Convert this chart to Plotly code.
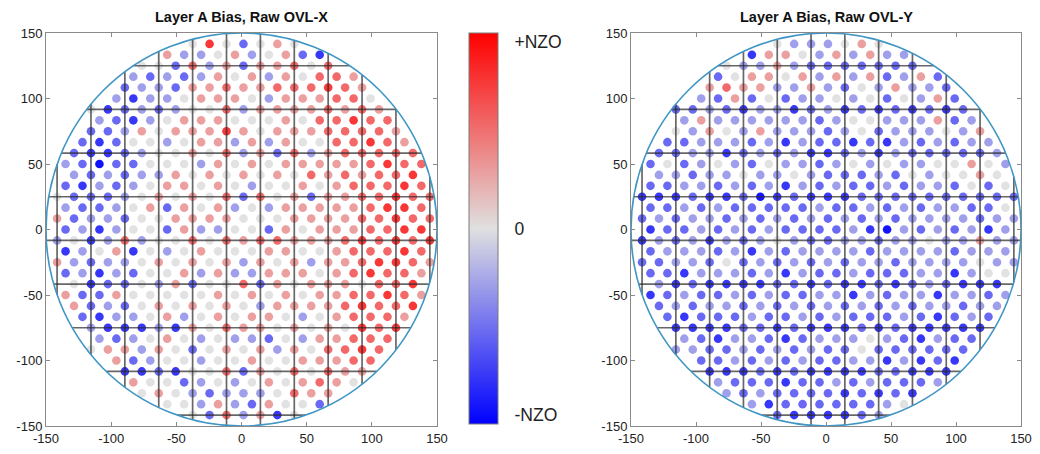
import sys
import numpy as np
import plotly.graph_objects as go

# ---------------- data ----------------
TITLES = ["Layer A Bias, Raw OVL-X", "Layer A Bias, Raw OVL-Y"]
AXIS_TICKS = [-150, -100, -50, 0, 50, 100, 150]
AXIS_TICKTEXT = ["-150", "-100", "-50", "0", "50", "100", "150"]
CB_LABEL_VALS = [-0.955, 0, 0.955]
CB_LABEL_TEXT = ["-NZO", "0", "+NZO"]
CB_MINOR_TICKS = [-2 / 3, -1 / 3, 0, 1 / 3, 2 / 3]

# bias level codes 1..9 -> normalised bias (-NZO .. +NZO)
LEVEL_VALUES = {"1": -1.0, "2": -0.82, "3": -0.58, "4": -0.32, "5": 0.0,
                "6": 0.32, "7": 0.58, "8": 0.82, "9": 1.0}

# site rows from top (row index k=14) to bottom (k=-20); each digit is the
# bias level of one measurement site, left to right
K_TOP = 14
X_ROWS = [
    "5 8 5 3 5 6 5",
    "6 4 4 5 6 4 5 6 3 2",
    "5 5 3 7 4 6 3 6 6 7 5 7",
    "4 3 4 3 4 6 5 6 4 6 5 7 7 6",
    "3 4 4 3 6 6 7 6 6 7 7 7 8 7 6",
    "4 2 4 4 5 6 6 6 5 4 6 6 6 7 7 5",
    "5 2 3 4 3 4 5 5 7 4 6 6 6 6 7 6 7 6",
    "4 3 2 4 5 6 6 6 5 5 5 6 5 7 7 8 7 7",
    "3 3 4 6 5 6 6 6 8 6 5 6 6 6 7 7 7 7 6",
    "3 2 3 5 5 4 5 6 6 4 6 4 6 5 5 7 7 8 7 6",
    "3 2 2 3 4 5 5 6 5 7 4 6 3 7 4 6 7 7 7 7 7",
    "4 3 1 3 3 5 5 5 4 6 5 6 5 6 6 6 6 6 7 8 7 7",
    "4 3 4 3 4 4 6 5 6 5 6 5 6 5 7 6 7 6 7 7 8 7",
    "3 2 4 3 4 5 6 6 5 6 5 4 5 5 6 5 6 7 7 7 8 7",
    "5 3 3 3 4 5 6 5 6 5 7 3 7 5 6 3 6 6 7 7 8 7 7",
    "4 3 3 4 5 6 3 6 5 6 4 5 4 6 6 6 6 6 7 8 8 7",
    "6 3 4 4 3 5 5 6 6 6 6 5 5 5 6 6 6 6 7 7 8 7 7",
    "3 4 2 4 5 5 3 6 4 4 5 5 3 6 5 6 6 6 7 7 8 8",
    "4 5 2 4 7 4 5 5 7 5 7 6 7 7 6 6 6 7 8 7 8 7 8",
    "2 4 5 6 2 5 4 5 6 5 5 5 6 6 5 5 6 7 7 7 8 7",
    "6 4 3 4 4 5 6 5 6 5 6 4 6 5 6 4 6 6 7 8 8 7 6",
    "3 4 2 4 3 5 5 6 4 6 4 4 6 6 6 5 6 7 8 7 7 6",
    "5 2 3 3 5 4 6 3 5 5 7 3 6 5 6 6 6 5 7 7 8 7",
    "6 3 3 6 5 5 5 5 5 6 5 6 5 6 5 6 6 7 7 8 7 6",
    "6 3 4 3 5 6 5 6 5 6 5 4 6 6 6 6 7 8 7 7 8",
    "3 2 4 4 5 6 4 5 6 5 6 6 5 4 5 6 7 7 7 6",
    "4 2 2 2 4 2 6 5 7 6 6 5 6 5 6 5 8 7 8",
    "4 3 4 5 6 5 4 5 4 4 3 5 4 6 6 7 7 7",
    "5 6 6 4 6 5 3 5 6 5 6 4 6 5 7 7 8 7",
    "6 3 4 5 5 4 5 5 6 5 5 6 6 6 7 7",
    "2 2 3 2 5 5 7 3 6 5 7 5 7 6 6",
    "6 5 5 3 4 5 4 5 6 5 6 7 6 5",
    "5 6 5 4 3 4 4 4 5 7 6 6",
    "5 5 4 6 4 3 6 5 5 3",
    "5 3 7 4 6 2 5",
]
Y_ROWS = [
    "5 4 4 4 5 6 5",
    "2 6 6 5 4 6 4 6 4 4",
    "5 4 4 6 4 3 3 3 3 3 3 3",
    "3 5 6 6 5 6 4 6 4 6 3 4 6 3",
    "6 7 6 6 4 4 6 4 3 5 4 6 4 4 3",
    "4 3 6 3 5 3 4 4 5 4 5 3 5 4 6 3",
    "3 3 4 3 2 4 4 2 3 4 2 3 2 3 2 3 2 3",
    "4 6 4 4 4 4 4 4 3 4 5 5 4 4 4 6 3 4",
    "5 4 6 5 4 6 4 4 4 3 4 5 3 4 4 4 5 4 6",
    "3 3 4 4 4 3 4 2 4 3 3 2 3 2 4 3 4 3 4 4",
    "3 3 4 4 2 3 4 3 4 2 2 3 4 2 4 3 3 3 3 3 4",
    "3 5 3 4 5 4 3 5 4 4 3 4 5 4 5 4 4 5 5 6 5 4",
    "4 4 3 4 4 5 4 4 5 4 3 3 3 4 3 5 4 5 5 6 5 7",
    "3 3 4 4 3 4 3 4 2 4 3 4 3 3 4 3 4 4 3 5 3 5",
    "2 2 2 3 2 2 3 1 2 3 2 2 2 3 3 3 3 3 3 3 3 3 3",
    "3 3 4 3 4 3 3 3 3 3 4 3 3 4 3 4 3 4 4 3 3 5",
    "3 4 3 4 4 3 4 3 4 3 4 3 4 3 4 3 4 4 4 4 3 4 4",
    "2 3 3 4 3 4 3 4 3 3 3 3 4 2 1 4 3 4 3 4 2 4",
    "2 4 3 4 2 4 3 4 5 4 3 3 4 4 3 4 4 5 4 4 6 4 4",
    "3 4 4 4 3 4 2 4 3 4 4 4 4 3 4 4 4 4 3 4 4 4",
    "3 3 4 4 3 5 3 4 3 4 3 4 3 4 4 3 4 4 4 4 5 4 4",
    "3 3 2 4 4 4 3 4 2 4 3 3 4 3 3 3 4 4 2 4 5 5",
    "4 2 3 2 2 2 2 3 3 2 3 2 2 3 2 3 4 3 2 2 2 2",
    "2 3 4 3 3 4 3 4 3 3 4 4 2 4 3 4 4 2 4 4 3 4",
    "3 4 3 4 4 3 4 3 4 3 4 3 4 3 4 3 4 4 3 4 4",
    "3 2 3 3 3 4 3 3 4 3 4 3 3 3 4 3 2 3 4 3",
    "2 2 2 2 3 3 2 3 2 2 2 3 2 3 2 2 2 2 2",
    "4 3 2 4 4 3 2 3 4 4 4 5 4 3 2 4 3 3",
    "4 4 3 3 4 3 4 3 4 3 3 5 3 3 3 3 3 3",
    "3 3 4 3 4 3 4 3 3 4 4 2 4 2 3 2",
    "2 2 2 3 2 3 2 2 2 2 3 3 2 2 2",
    "4 3 3 3 2 3 3 4 3 4 3 3 3 4",
    "4 3 4 3 3 3 3 2 3 2 3 2",
    "4 2 3 3 3 3 3 3 4 5",
    "3 2 2 2 2 3 4",
]

# ---------------- wafer / field geometry (mm) ----------------
WAFER_R = 150.0
SITE_R = 147.5
SITE_DX = 6.5
SITE_X0 = 1.5
ROW_Y0 = 25.0
ROW_DY = 100.0 / 12
FIELD_W = 26.0
FIELD_H = 100.0 / 3
FIELD_X0 = 14.5
FIELD_Y0 = 25.0


def sites(rows):
    xs, ys, vs = [], [], []
    for idx, s in enumerate(rows):
        k = K_TOP - idx
        y = ROW_Y0 + k * ROW_DY
        js = [j for j in range(-24, 25)
              if (j - k) % 2 == 0 and np.hypot(SITE_X0 + SITE_DX * j, y) <= SITE_R]
        codes = s.replace(" ", "")
        if len(codes) != len(js):
            print(f"row k={k}: {len(codes)} codes for {len(js)} sites", file=sys.stderr)
        for j, c in zip(js, codes):
            if c == ".":
                continue
            xs.append(SITE_X0 + SITE_DX * j)
            ys.append(y)
            vs.append(LEVEL_VALUES[c])
    return xs, ys, vs


def field_grid():
    gx, gy = [], []
    for m in range(-8, 9):
        x = FIELD_X0 + m * FIELD_W
        if abs(x) < WAFER_R:
            h = np.sqrt(WAFER_R ** 2 - x ** 2)
            gx += [x, x, None]
            gy += [-h, h, None]
    for m in range(-6, 6):
        y = FIELD_Y0 + m * FIELD_H
        if abs(y) < WAFER_R:
            h = np.sqrt(WAFER_R ** 2 - y ** 2)
            gx += [-h, h, None]
            gy += [y, y, None]
    return gx, gy


COLORSCALE = [[0.0, "rgb(0,0,255)"], [0.5, "rgb(224,224,224)"], [1.0, "rgb(255,0,0)"]]
FONT = "Liberation Sans, Arial, sans-serif"

# page geometry (pixels in the 1040x454 window); the html body adds an 8px margin
PAGE_OFF = 8
W, H = 1040 - 2 * PAGE_OFF, 454 - 2 * PAGE_OFF
PLOT_L, PLOT_R, PLOT_T, PLOT_B = 46, 1021, 33, 426
ML, MR = PLOT_L - PAGE_OFF, (W + PAGE_OFF) - PLOT_R
MT, MB = PLOT_T - PAGE_OFF, (H + PAGE_OFF) - PLOT_B
PW, PH = PLOT_R - PLOT_L, PLOT_B - PLOT_T
PANEL_X = [(46, 437), (631, 1021)]
CB_X0, CB_X1, CB_Y0, CB_Y1 = 469, 498, 33, 424


def px_to_fx(px):
    return (px - PLOT_L) / PW


def py_to_fy(py):
    return 1 - (py - PLOT_T) / PH


fig = go.Figure()
gx, gy = field_grid()
for p, rows in enumerate([X_ROWS, Y_ROWS]):
    xa = "x" if p == 0 else "x2"
    ya = "y" if p == 0 else "y2"
    xs, ys, vs = sites(rows)
    marker = dict(size=8.6, color=vs, cmin=-1, cmax=1, colorscale=COLORSCALE,
                  opacity=0.93, line=dict(width=0))
    if p == 0:
        marker.update(showscale=True, colorbar=dict(
            x=px_to_fx(CB_X0), xanchor="left", xpad=0, ypad=0,
            y=py_to_fy((CB_Y0 + CB_Y1) / 2), yanchor="middle",
            len=(CB_Y1 - CB_Y0) / PH, lenmode="fraction",
            thickness=CB_X1 - CB_X0, thicknessmode="pixels",
            outlinewidth=1, outlinecolor="#7a7a7a",
            tickvals=CB_LABEL_VALS, ticktext=CB_LABEL_TEXT,
            ticks="outside", ticklen=13, tickcolor="rgba(0,0,0,0)",
            tickfont=dict(family=FONT, size=17.5, color="#222"),
        ))
    else:
        marker.update(showscale=False)
    fig.add_trace(go.Scatter(x=xs, y=ys, mode="markers", marker=marker,
                             xaxis=xa, yaxis=ya, hoverinfo="skip", showlegend=False))
    fig.add_trace(go.Scatter(x=gx, y=gy, mode="lines",
                             line=dict(color="rgba(45,45,45,0.72)", width=1.7),
                             xaxis=xa, yaxis=ya, hoverinfo="skip", showlegend=False))
    fig.add_shape(type="circle", xref=xa, yref=ya,
                  x0=-WAFER_R, x1=WAFER_R, y0=-WAFER_R, y1=WAFER_R,
                  line=dict(color="#3f96c4", width=1.6), layer="above")
    cx = (PANEL_X[p][0] + PANEL_X[p][1]) / 2
    fig.add_annotation(text=f"<b>{TITLES[p]}</b>", xref="paper", yref="paper",
                       x=px_to_fx(cx), y=py_to_fy(16.5), xanchor="center", yanchor="middle",
                       showarrow=False,
                       font=dict(family=FONT, size=14.5, color="#111"))

# small inner tick marks on the right edge of the colour bar
for v in CB_MINOR_TICKS:
    ty = CB_Y1 - (v + 1) / 2 * (CB_Y1 - CB_Y0)
    fig.add_shape(type="line", xref="paper", yref="paper",
                  x0=px_to_fx(CB_X1 - 4), x1=px_to_fx(CB_X1),
                  y0=py_to_fy(ty), y1=py_to_fy(ty),
                  line=dict(color="#555", width=1), layer="above")

axis_common = dict(range=[-WAFER_R, WAFER_R], tickvals=AXIS_TICKS, ticktext=AXIS_TICKTEXT,
                   showgrid=False, zeroline=False, showline=True, automargin=False,
                   linecolor="#8a8a8a", linewidth=1, mirror="ticks",
                   ticks="inside", ticklen=4, tickcolor="#8a8a8a",
                   tickfont=dict(family=FONT, size=13, color="#222"),
                   fixedrange=True)
fig.update_layout(
    width=W, height=H,
    margin=dict(l=ML, r=MR, t=MT, b=MB, autoexpand=False),
    paper_bgcolor="white", plot_bgcolor="white",
    xaxis=dict(domain=[px_to_fx(PANEL_X[0][0]), px_to_fx(PANEL_X[0][1])], anchor="y", **axis_common),
    yaxis=dict(domain=[0, 1], anchor="x", **axis_common),
    xaxis2=dict(domain=[px_to_fx(PANEL_X[1][0]), px_to_fx(PANEL_X[1][1])], anchor="y2", **axis_common),
    yaxis2=dict(domain=[0, 1], anchor="x2", **axis_common),
)

fig.write_html("out.html")
